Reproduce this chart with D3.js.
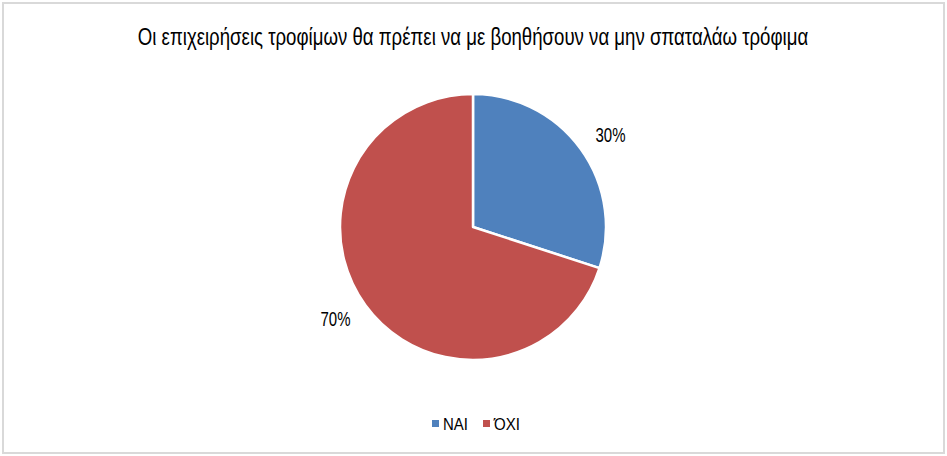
<!DOCTYPE html>
<html><head><meta charset="utf-8">
<script src="https://cdn.jsdelivr.net/npm/d3@7"></script>
<style>
html,body{margin:0;padding:0;background:#fff;}
text{font-family:"Liberation Sans",Arial,sans-serif;fill:#000;}
</style></head>
<body>
<svg id="chart" width="947" height="456"></svg>
<script>
const title = "Οι επιχειρήσεις τροφίμων θα πρέπει να με βοηθήσουν να μην σπαταλάω τρόφιμα";
const categories = ["ΝΑΙ", "ΌΧΙ"];
const values = [30, 70];
const colors = ["#4F81BD", "#C0504D"];

const svg = d3.select("#chart");
svg.append("rect").attr("x",3).attr("y",3).attr("width",941).attr("height",450)
  .attr("fill","#fff").attr("stroke","#d9d9d9").attr("stroke-width",2);

// narrow text: draw at natural size, then squeeze horizontally to a target width
function narrowText(parent, x, y, str, size, targetW, anchor){
  const t = parent.append("text").attr("text-anchor",anchor).style("font-size",size+"px").text(str);
  const w = t.node().getComputedTextLength();
  const k = Math.min(1, targetW / w);
  t.attr("transform",`translate(${x},${y}) scale(${k},1)`);
  return t;
}

narrowText(svg, 473, 45, title, 24, 671, "middle");

const cx = 473, cy = 227, r = 133;
const pie = d3.pie().sort(null).value(d => d);
const arcs = pie(values);
const arc = d3.arc().innerRadius(0).outerRadius(r);
const color = d3.scaleOrdinal().domain(categories).range(colors);
const labelRx = 170, labelRy = 156;

const g = svg.append("g").attr("transform",`translate(${cx},${cy})`);
g.selectAll("path").data(arcs).enter().append("path")
  .attr("d",arc).attr("fill",(d,i)=>color(categories[i]))
  .attr("stroke","#fff").attr("stroke-width",2.5).attr("stroke-linejoin","round");

const total = d3.sum(values);
arcs.forEach(d=>{
  const a = (d.startAngle + d.endAngle)/2;
  const lx = labelRx*Math.sin(a), ly = -labelRy*Math.cos(a) + 7;
  narrowText(g, lx, ly, Math.round(d.data/total*100)+"%", 21, 30, "middle");
});

const legendX = [432, 483];
const legendW = [25, 26];
const lg = svg.append("g");
categories.forEach((c,i)=>{
  lg.append("rect").attr("x",legendX[i]).attr("y",420).attr("width",7).attr("height",7).attr("fill",color(c));
  narrowText(lg, legendX[i]+11, 430, c, 17, legendW[i], "start");
});
</script>
</body></html>
